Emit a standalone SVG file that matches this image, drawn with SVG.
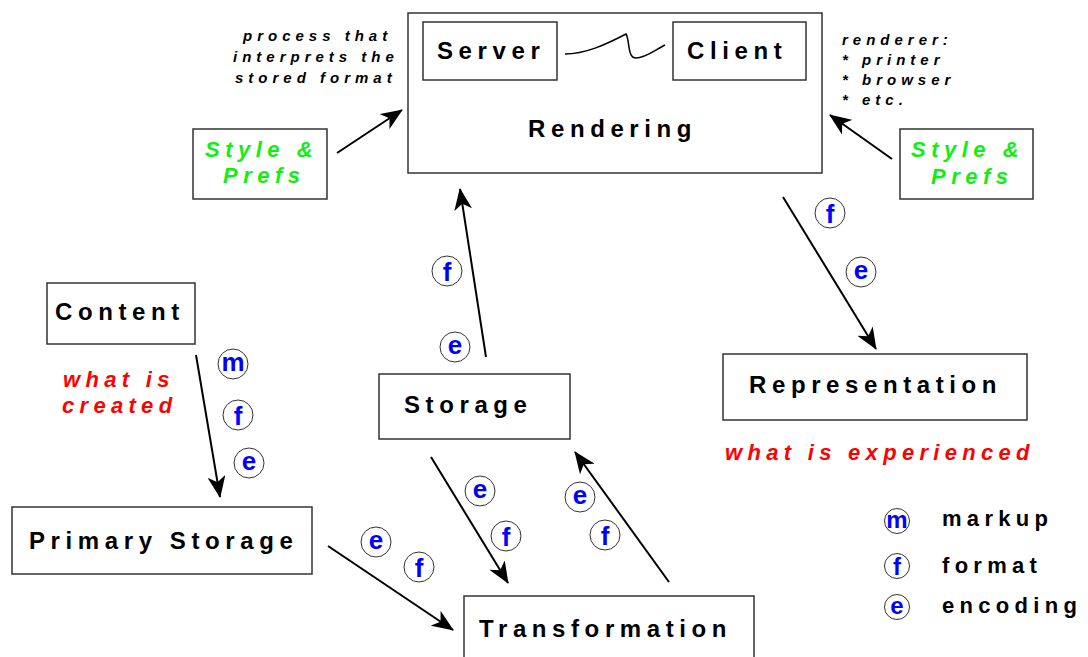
<svg xmlns="http://www.w3.org/2000/svg" width="1088" height="657" viewBox="0 0 1088 657">
  <defs>
    <marker id="head" markerUnits="userSpaceOnUse" markerWidth="22" markerHeight="18" refX="21" refY="9" orient="auto">
      <path d="M0,0 L22,9 L0,18 L6,9 Z" fill="#000"/>
    </marker>
    <style>
      .box { fill: #fff; stroke: #333; stroke-width: 1.5; }
      .label { font-family: "Liberation Sans", Arial, sans-serif; font-weight: bold; font-size: 24px; letter-spacing: 5.6px; fill: #000; }
      .note { font-family: "Liberation Sans", Arial, sans-serif; font-weight: bold; font-style: italic; font-size: 15px; letter-spacing: 5px; fill: #000; }
      .pref { font-family: "Liberation Sans", Arial, sans-serif; font-weight: bold; font-style: italic; font-size: 22px; letter-spacing: 5.5px; fill: #11ee11; }
      .red { font-family: "Liberation Sans", Arial, sans-serif; font-weight: bold; font-style: italic; font-size: 22px; letter-spacing: 5.3px; fill: #ff0000; }
      .legend { font-family: "Liberation Sans", Arial, sans-serif; font-weight: bold; font-size: 22px; letter-spacing: 5.3px; fill: #000; }
      .tag circle { fill: #fff; stroke: #333; stroke-width: 1; }
      .tag text { font-family: "Liberation Sans", Arial, sans-serif; font-weight: bold; font-size: 26px; fill: #0000ff; text-anchor: middle; }
      .key circle { fill: #fff; stroke: #333; stroke-width: 1; }
      .key text { font-family: "Liberation Sans", Arial, sans-serif; font-weight: bold; font-size: 24px; fill: #0000ff; text-anchor: middle; }
      .conn line { stroke: #000; stroke-width: 2; marker-end: url(#head); }
    </style>
  </defs>

  <rect width="1088" height="657" fill="#fff"/>

  <!-- Rendering, with its server and client -->
  <g id="rendering">
    <rect class="box" x="408" y="13" width="414" height="160"/>
    <text class="label" x="528" y="137">Rendering</text>
  </g>
  <g id="server">
    <rect class="box" x="423" y="22" width="134" height="58"/>
    <text class="label" x="437" y="59">Server</text>
  </g>
  <g id="client">
    <rect class="box" x="673" y="22" width="133" height="58"/>
    <text class="label" x="687" y="59">Client</text>
  </g>
  <path d="M565,54 C585,54 605,45 626,34 C630,40 627,58 636,58 C645,58 655,50 665,45" fill="none" stroke="#000" stroke-width="1.5"/>

  <!-- side notes -->
  <g id="note-process">
    <text class="note" x="243" y="41">process that</text>
    <text class="note" x="233" y="62">interprets the</text>
    <text class="note" x="235" y="83">stored format</text>
  </g>
  <g id="note-renderer">
    <text class="note" x="842" y="45">renderer:</text>
    <text class="note" x="842" y="65">* printer</text>
    <text class="note" x="842" y="85">* browser</text>
    <text class="note" x="842" y="105">* etc.</text>
  </g>

  <g id="prefs-left">
    <rect class="box" x="193" y="129" width="134" height="70"/>
    <text class="pref" x="205" y="157">Style &amp;</text>
    <text class="pref" x="223" y="183">Prefs</text>
  </g>
  <g id="prefs-right">
    <rect class="box" x="900" y="129" width="133" height="70"/>
    <text class="pref" x="911" y="157">Style &amp;</text>
    <text class="pref" x="931" y="184">Prefs</text>
  </g>

  <g id="content">
    <rect class="box" x="47" y="283" width="148" height="61"/>
    <text class="label" x="55" y="320">Content</text>
  </g>
  <g id="note-created">
    <text class="red" x="63" y="387">what is</text>
    <text class="red" x="62" y="413">created</text>
  </g>

  <g id="primary-storage">
    <rect class="box" x="12" y="507" width="300" height="67"/>
    <text class="label" x="29" y="549">Primary Storage</text>
  </g>

  <g id="storage">
    <rect class="box" x="379" y="374" width="191" height="65"/>
    <text class="label" x="404" y="413">Storage</text>
  </g>

  <g id="transformation">
    <rect class="box" x="464" y="596" width="290" height="70"/>
    <text class="label" x="479" y="637">Transformation</text>
  </g>

  <g id="representation">
    <rect class="box" x="723" y="354" width="304" height="66"/>
    <text class="label" x="749" y="393">Representation</text>
  </g>
  <g id="note-experienced">
    <text class="red" x="725" y="460">what is experienced</text>
  </g>

  <!-- connectors -->
  <g id="connectors" class="conn">
    <line x1="337" y1="153" x2="402" y2="110"/>
    <line x1="892" y1="159" x2="830" y2="115"/>
    <line x1="196" y1="355" x2="220" y2="497"/>
    <line x1="486" y1="357" x2="460" y2="189"/>
    <line x1="783" y1="197" x2="876" y2="349"/>
    <line x1="431" y1="457" x2="508" y2="583"/>
    <line x1="669" y1="582" x2="575" y2="452"/>
    <line x1="328" y1="546" x2="453" y2="630"/>
  </g>

  <!-- m / f / e tags along the connectors -->
  <g id="tags" class="tag">
    <circle cx="233" cy="364" r="15"/><text x="233" y="371">m</text>
    <circle cx="238" cy="415" r="15"/><text x="238" y="424.5">f</text>
    <circle cx="249" cy="463" r="15"/><text x="249" y="470">e</text>

    <circle cx="447" cy="271" r="15"/><text x="447" y="280.5">f</text>
    <circle cx="455" cy="347" r="15"/><text x="455" y="354">e</text>

    <circle cx="830" cy="213" r="15"/><text x="830" y="222.5">f</text>
    <circle cx="861" cy="272" r="15"/><text x="861" y="279">e</text>

    <circle cx="480" cy="491" r="15"/><text x="480" y="498">e</text>
    <circle cx="506" cy="536" r="15"/><text x="506" y="545.5">f</text>

    <circle cx="580" cy="497" r="15"/><text x="580" y="504">e</text>
    <circle cx="605" cy="535" r="15"/><text x="605" y="544.5">f</text>

    <circle cx="376" cy="542" r="15"/><text x="376" y="549">e</text>
    <circle cx="419" cy="567" r="15"/><text x="419" y="576.5">f</text>
  </g>

  <!-- key -->
  <g id="legend">
    <g class="key">
      <circle cx="897" cy="521" r="12.5"/><text x="897" y="527.5">m</text>
      <circle cx="897" cy="566" r="12.5"/><text x="897" y="574.5">f</text>
      <circle cx="897" cy="607" r="12.5"/><text x="897" y="613.5">e</text>
    </g>
    <text class="legend" x="942" y="526">markup</text>
    <text class="legend" x="942" y="573">format</text>
    <text class="legend" x="942" y="613">encoding</text>
  </g>
</svg>
